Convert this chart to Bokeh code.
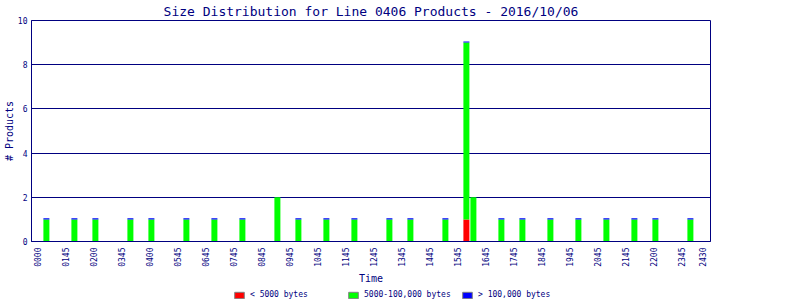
import math
from bokeh.plotting import figure
from bokeh.layouts import column
from bokeh.models import Range1d, FixedTicker, Legend, LegendItem, ColumnDataSource
from bokeh.embed import file_html
from bokeh.resources import INLINE

# ---- data ----
bin_start = ["0000", "0100", "0145", "0300", "0345", "0500", "0600", "0700", "0815",
             "0900", "1000", "1100", "1215", "1300", "1415", "1500", "1515", "1615",
             "1700", "1800", "1900", "2000", "2100", "2145", "2300"]
small_counts = [0, 0, 0, 0, 0, 0, 0, 0, 0, 0, 0, 0, 0, 0, 0, 1, 0, 0, 0, 0, 0, 0, 0, 0, 0]
medium_counts = [1, 1, 1, 1, 1, 1, 1, 1, 2, 1, 1, 1, 1, 1, 1, 8, 2, 1, 1, 1, 1, 1, 1, 1, 1]
large_counts = [0.05, 0.05, 0.05, 0.05, 0.05, 0.05, 0.05, 0.05, 0, 0.05, 0.05, 0.05, 0.05,
                0.05, 0.05, 0.05, 0, 0.05, 0.05, 0.05, 0.05, 0.05, 0.05, 0.05, 0.05]
tick_hours = [0, 1, 2, 3, 4, 5, 6, 7, 8, 9, 10, 11, 12, 13, 14, 15, 16, 17, 18, 19, 20,
              21, 22, 23, 23.75]
tick_labels = ["0000", "0145", "0200", "0345", "0400", "0545", "0645", "0745", "0845",
               "0945", "1045", "1145", "1245", "1345", "1445", "1545", "1645", "1745",
               "1845", "1945", "2045", "2145", "2200", "2345", "2430"]
series_labels = ["< 5000 bytes", "5000-100,000 bytes", "> 100,000 bytes"]
title_text = "Size Distribution for Line 0406 Products - 2016/10/06"

# ---- style ----
NAVY = "#000080"
COLORS = ["#ff0000", "#00ff00", "#0000ff"]
FONT = "DejaVu Sans Mono"
BAR_OFFSET = 0.30   # hours, bar centre offset inside its 15-minute bin
BAR_WIDTH = 0.214   # hours

hours = [int(t[:2]) + int(t[2:]) / 60.0 + BAR_OFFSET for t in bin_start]
src = ColumnDataSource(dict(x=hours, small=small_counts, medium=medium_counts,
                            large=large_counts))

p = figure(width=800, height=286, x_range=Range1d(-0.232, 24.018), y_range=Range1d(0, 10),
           output_backend="svg", toolbar_location=None,
           min_border_left=31, min_border_right=90, min_border_top=20, min_border_bottom=44)

p.vbar_stack(["small", "medium", "large"], x="x", width=BAR_WIDTH, source=src,
             fill_color=COLORS, line_color=None)

p.title.text = title_text
p.title.align = "center"
p.title.vertical_align = "top"
p.title.text_font = FONT
p.title.text_font_size = "13px"
p.title.text_font_style = "normal"
p.title.text_color = NAVY
p.title.text_line_height = 0.7
p.title.standoff = 0

p.outline_line_color = NAVY
p.outline_line_alpha = 1
p.outline_line_width = 1

p.xgrid.visible = False
p.ygrid.ticker = FixedTicker(ticks=[2, 4, 6, 8, 10])
p.ygrid.grid_line_color = NAVY
p.ygrid.grid_line_alpha = 1
p.ygrid.grid_line_width = 1

p.yaxis.ticker = FixedTicker(ticks=[0, 2, 4, 6, 8, 10])
p.xaxis.ticker = FixedTicker(ticks=tick_hours)
p.xaxis.major_label_overrides = {h: l for h, l in zip(tick_hours, tick_labels)}
p.xaxis.major_label_orientation = math.pi / 2

for ax in (p.xaxis, p.yaxis):
    ax.axis_line_color = NAVY
    ax.major_tick_line_color = None
    ax.minor_tick_line_color = None
    ax.major_tick_out = 0
    ax.major_tick_in = 0
    ax.major_label_text_font = FONT
    ax.major_label_text_font_size = "8px"
    ax.major_label_text_color = NAVY
    ax.axis_label_text_font = FONT
    ax.axis_label_text_font_size = "10px"
    ax.axis_label_text_font_style = "normal"
    ax.axis_label_text_color = NAVY

p.xaxis.axis_label = "Time"
p.yaxis.axis_label = "# Products"
p.xaxis.major_label_standoff = 6
p.xaxis.axis_label_standoff = 3
p.yaxis.major_label_standoff = 4
p.yaxis.axis_label_standoff = 0

# ---- legend strip ----
lg = figure(width=800, height=14, x_range=Range1d(0, 1), y_range=Range1d(0, 1),
            output_backend="svg", toolbar_location=None, min_border=0,
            x_axis_location=None, y_axis_location=None)
lg.outline_line_color = None
lg.grid.visible = False
nan = float("nan")
proxies = [lg.vbar(x=[nan], top=[nan], width=0.1, fill_color=c, line_color="#808080")
           for c in COLORS]
legend = Legend(items=[LegendItem(label=l, renderers=[r]) for l, r in zip(series_labels, proxies)],
                orientation="horizontal", location=(202, 1),
                glyph_width=12, glyph_height=8, label_standoff=5, label_width=97,
                label_height=8, spacing=0, padding=0, margin=0,
                border_line_color=None, background_fill_alpha=0,
                label_text_font=FONT, label_text_font_size="8px", label_text_color=NAVY)
lg.add_layout(legend)

open("out.html", "w").write(file_html(column(p, lg, spacing=0), INLINE))
